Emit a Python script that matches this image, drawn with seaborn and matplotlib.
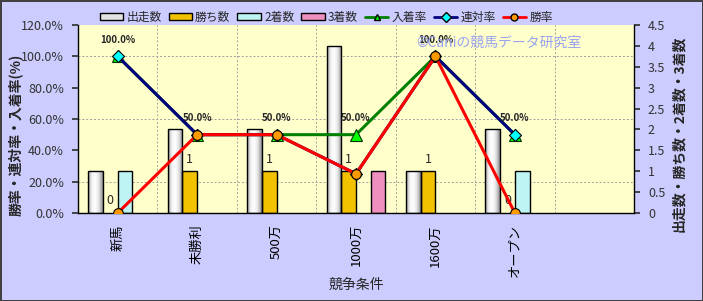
import numpy as np
import pandas as pd
import matplotlib
matplotlib.use("Agg")
import matplotlib.pyplot as plt
import seaborn as sns
from matplotlib.ticker import FixedLocator, MultipleLocator, FuncFormatter
from matplotlib.patches import Patch
from matplotlib.lines import Line2D
from matplotlib.colors import LinearSegmentedColormap

categories = ["新馬", "未勝利", "500万", "1000万", "1600万", "オープン", ""]
starts = [1, 2, 2, 4, 1, 2, 0]
wins = [0, 1, 1, 1, 1, 0, 0]
seconds = [1, 0, 0, 0, 0, 1, 0]
thirds = [0, 0, 0, 1, 0, 0, 0]
line_cats = ["新馬", "未勝利", "500万", "1000万", "1600万", "オープン"]
place_rate = [100.0, 50.0, 50.0, 50.0, 100.0, 50.0]
rentai_rate = [100.0, 50.0, 50.0, 25.0, 100.0, 50.0]
win_rate = [0.0, 50.0, 50.0, 25.0, 100.0, 0.0]
bar_series = ["出走数", "勝ち数", "2着数", "3着数"]
bar_colors = ["#E4E4E4", "#F2C200", "#BFF4F4", "#EE8FC0"]

sns.set_theme(style="white")
plt.rcParams["font.family"] = ["Noto Sans CJK JP", "DejaVu Sans"]

df = pd.DataFrame({
    "cat": categories * 4,
    "series": sum([[s] * len(categories) for s in bar_series], []),
    "value": starts + wins + seconds + thirds,
})

fig = plt.figure(figsize=(7.03, 3.01), dpi=100)
fig.patch.set_facecolor("#CCCCFF")
fig.patch.set_edgecolor("#404040")
fig.patch.set_linewidth(2)

ax = fig.add_axes([78 / 703, 1 - 213 / 301, 556 / 703, 188 / 301])
ax.set_facecolor("#FFFFCC")

sns.barplot(data=df, x="cat", y="value", hue="series", order=categories,
            hue_order=bar_series, palette=bar_colors, saturation=1,
            width=0.74, edgecolor="black", linewidth=1, ax=ax, legend=False,
            errorbar=None)
for p in ax.patches:
    if p.get_height() == 0:
        p.set_visible(False)

# cylinder-like shading for the 出走数 bars
grad_cmap = LinearSegmentedColormap.from_list(
    "cyl", ["#9A9A9A", "#F4F4F4", "#FFFFFF", "#E0E0E0", "#8C8C8C"])
grad = np.linspace(0, 1, 64).reshape(1, -1)
for p in ax.containers[0]:
    if p.get_height() == 0:
        continue
    x0, w, h = p.get_x(), p.get_width(), p.get_height()
    im = ax.imshow(grad, cmap=grad_cmap, aspect="auto", extent=(x0, x0 + w, 0, h),
                   zorder=p.get_zorder() - 0.05, interpolation="bicubic")
    im.set_clip_path(p)
    p.set_facecolor("none")
    p.set_zorder(p.get_zorder() + 0.1)

# win-count labels
win_labels = [str(w) if c else "" for w, c in zip(wins, categories)]
ax.bar_label(ax.containers[1], labels=win_labels, padding=4, fontsize=9)

ax2 = ax.twinx()

ax.set_ylim(0, 4.5)
ax.yaxis.tick_right()
ax.yaxis.set_label_position("right")
ax.yaxis.set_major_locator(MultipleLocator(0.5))
ax.yaxis.set_major_formatter(FuncFormatter(lambda v, p: f"{v:g}"))
ax.yaxis.set_minor_locator(MultipleLocator(0.75))
ax.xaxis.set_minor_locator(FixedLocator(np.arange(-0.5, len(categories), 1)))
ax.grid(which="minor", axis="both", color="#A0A0A0", linestyle=(0, (2, 2)), linewidth=0.7)
ax.set_axisbelow(True)
ax.tick_params(which="minor", length=0)
ax.tick_params(axis="y", which="major", right=True, left=False, labelright=True,
               labelleft=False, length=4, labelsize=9, colors="#333333", pad=6)
ax.tick_params(axis="x", which="major", length=0, labelsize=9.5, labelrotation=90, pad=8)
ax.set_xlim(-0.5, len(categories) - 0.5)
ax.set_ylabel("出走数・勝ち数・2着数・3着数", fontsize=10, fontweight="bold")
ax.yaxis.set_label_coords(1.068, 0.42)
ax.set_xlabel("競争条件", fontsize=10)
ax.xaxis.set_label_coords(0.5, -0.345)
for s in ["left", "bottom", "right"]:
    ax.spines[s].set_color("black")
    ax.spines[s].set_linewidth(1)
ax.spines["top"].set_visible(False)

line_specs = [
    ("入着率", place_rate, "#008000", "^", "#00FF00", 8),
    ("連対率", rentai_rate, "#000080", "D", "#00FFFF", 6),
    ("勝率", win_rate, "#FF0000", "o", "#FF9900", 7),
]
for name, vals, col, mk, mfc, ms in line_specs:
    sns.pointplot(x=line_cats, y=vals, order=categories, color=col, markers=mk,
                  linestyles="-", errorbar=None, ax=ax2)
    ln = ax2.lines[-1]
    ln.set_linewidth(2.2)
    ln.set_markerfacecolor(mfc)
    ln.set_markeredgecolor("#003300" if mk == "^" else "black")
    ln.set_markeredgewidth(0.8)
    ln.set_markersize(ms)

for i, v in enumerate(place_rate):
    ax2.annotate(f"{v:.1f}%", xy=(i, v), xytext=(0, 12), textcoords="offset points",
                 ha="center", va="center", fontsize=7, fontweight="bold")

ax2.set_xlim(-0.5, len(categories) - 0.5)
ax2.set_ylim(0, 120)
ax2.yaxis.tick_left()
ax2.yaxis.set_label_position("left")
ax2.yaxis.set_major_locator(MultipleLocator(20))
ax2.yaxis.set_major_formatter(FuncFormatter(lambda v, p: f"{v:.1f}%"))
ax2.tick_params(axis="y", left=True, right=False, labelleft=True, labelright=False,
                length=4, labelsize=9, colors="#333333", pad=6)
ax2.set_ylabel("勝率・連対率・入着率(%)", fontsize=10, fontweight="bold")
ax2.yaxis.set_label_coords(-0.10, 0.415)
for s in ax2.spines.values():
    s.set_visible(False)
ax2.set_xlabel("")
ax.set_xticks(range(len(categories)))
ax.set_xticklabels(categories)
for lbl in ax.get_xticklabels():
    lbl.set_color("black")
ax.set_xlim(-0.5, len(categories) - 0.5)
ax.set_ylim(0, 4.5)

handles = [Patch(facecolor=c, edgecolor="black", linewidth=1) for c in bar_colors]
handles += [Line2D([0], [0], color=col, marker=mk, markerfacecolor=mfc,
                   markeredgecolor="black", markersize=5, linewidth=2)
            for _, _, col, mk, mfc, _ in line_specs]
labels = bar_series + [s[0] for s in line_specs]
fig.legend(handles, labels, loc="center", bbox_to_anchor=(0.464, 0.943), ncol=7,
           frameon=False, fontsize=8.5, handlelength=2.0, handleheight=0.6,
           columnspacing=0.6, handletextpad=0.25, borderpad=0.2)

fig.text(0.592, 0.857, "©Caniの競馬データ研究室", color="#99A3F0", fontsize=10,
         ha="left", va="center")

fig.savefig("out.png", dpi=100, facecolor=fig.get_facecolor(), edgecolor=fig.get_edgecolor())
